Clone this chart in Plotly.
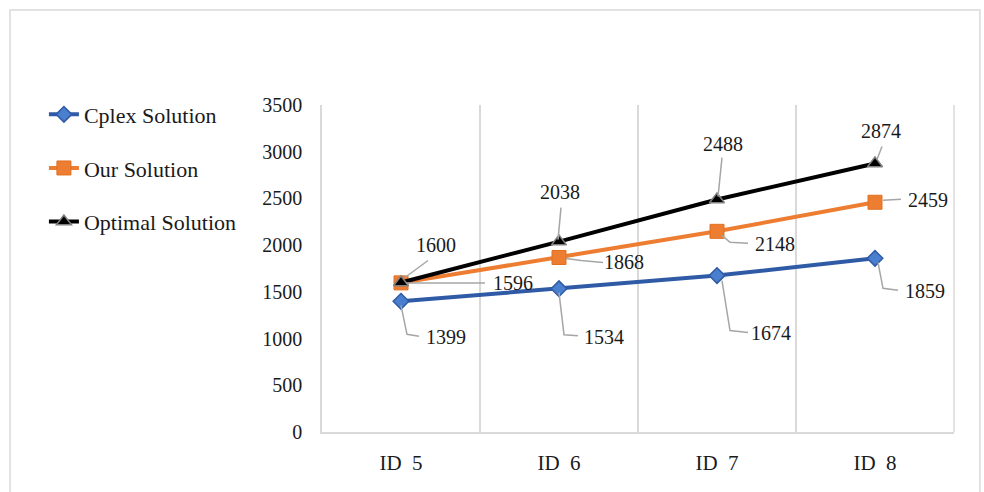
import plotly.graph_objects as go

# Instances compared along the x axis
categories = ["ID\u00a0 5", "ID\u00a0 6", "ID\u00a0 7", "ID\u00a0 8"]

# Objective values per method
cplex_values = [1399, 1534, 1674, 1859]
our_values = [1596, 1868, 2148, 2459]
optimal_values = [1600, 2038, 2488, 2874]

y_ticks = [0, 500, 1000, 1500, 2000, 2500, 3000, 3500]

FONT = "Liberation Serif, Times New Roman, serif"
TEXT = "#1a1a1a"
LEADER = "#a6a6a6"
GRID = "#d9d9d9"

# Label placement for each point: text offset (dx, dy) in screen pixels
# (dy downward) and leader-line vertices relative to the point.
cplex_labels = [
    ((45, 36), [(0, 4), (6, 33), (18, 35)]),
    ((45, 48), [(0, 4), (5, 46), (19, 47)]),
    ((54, 57), [(5, 5), (13, 55), (31, 57)]),
    ((50, 33), [(3, 4), (8, 30), (23, 32)]),
]
our_labels = [
    ((112, 0), [(5, 0), (84, 0)]),
    ((65, 5), [(7, 1), (22, 3), (44, 5)]),
    ((58, 13), [(5, 4), (13, 11), (31, 12)]),
    ((53, -2), [(8, -2), (26, -3)]),
]
optimal_labels = [
    ((35, -38), [(4, -5), (27, -22)]),
    ((1, -50), [(-1, -2), (2, -34)]),
    ((6, -56), [(1, -3), (5, -42)]),
    ((6, -32), [(2, -4), (7, -17)]),
]

fig = go.Figure()

fig.add_trace(go.Scatter(
    x=categories, y=cplex_values, name="Cplex Solution",
    mode="lines+markers", legendgroup="a",
    line=dict(color="#2F5AA6", width=4),
    marker=dict(symbol="diamond", size=12, color="#4A7FCF",
                line=dict(color="#2F5AA6", width=1.5)),
))
fig.add_trace(go.Scatter(
    x=categories, y=our_values, name="Our Solution",
    mode="lines+markers", legendgroup="b",
    line=dict(color="#ED7D31", width=4),
    marker=dict(symbol="square", size=14, color="#ED7D31",
                line=dict(color="#E07020", width=1)),
))
fig.add_trace(go.Scatter(
    x=categories, y=optimal_values, name="Optimal Solution",
    mode="lines+markers", legendgroup="c",
    line=dict(color="#000000", width=4),
    marker=dict(symbol="triangle-up", size=13, color="#000000",
                line=dict(color="#808080", width=1.5)),
))

shapes = []
annotations = []
for values, placements in ((cplex_values, cplex_labels),
                           (our_values, our_labels),
                           (optimal_values, optimal_labels)):
    for cat, val, ((dx, dy), pts) in zip(categories, values, placements):
        path = "M " + " L ".join(f"{px},{-py}" for px, py in pts)
        shapes.append(dict(
            type="path", xref="x", yref="y",
            xsizemode="pixel", ysizemode="pixel",
            xanchor=cat, yanchor=val, path=path,
            line=dict(color=LEADER, width=1.5), layer="above",
        ))
        annotations.append(dict(
            x=cat, y=val, xref="x", yref="y", text=str(val),
            showarrow=False, xshift=dx, yshift=-dy,
            font=dict(family=FONT, size=20, color=TEXT),
        ))

# Outer frame around the whole chart
shapes.append(dict(
    type="rect", xref="paper", yref="paper",
    x0=-0.4937, x1=1.041, y0=-0.2, y1=1.2905,
    line=dict(color=GRID, width=1.5), layer="below",
))
# Right edge of the plotting area
shapes.append(dict(
    type="line", xref="paper", yref="paper",
    x0=1, x1=1, y0=0, y1=1,
    line=dict(color=GRID, width=1.5), layer="below",
))

fig.update_layout(
    width=984, height=492,
    margin=dict(l=322, r=30, t=105, b=60),
    paper_bgcolor="white", plot_bgcolor="white",
    font=dict(family=FONT, size=20, color=TEXT),
    showlegend=True,
    legend=dict(
        x=-0.44, y=1.035, xanchor="left", yanchor="top",
        traceorder="grouped", tracegroupgap=22,
        font=dict(family=FONT, size=22, color=TEXT),
        bgcolor="rgba(0,0,0,0)",
    ),
    xaxis=dict(
        type="category", range=[-0.5, 3.5],
        showgrid=True, gridcolor=GRID, gridwidth=1.5,
        tickson="boundaries", ticks="",
        showline=True, linecolor=GRID, linewidth=1.5,
        zeroline=False, ticklabelstandoff=11,
        tickfont=dict(family=FONT, size=21, color=TEXT),
    ),
    yaxis=dict(
        range=[0, 3500], tickvals=y_ticks,
        showgrid=False, zeroline=False,
        showline=True, linecolor=GRID, linewidth=1.5,
        ticks="", ticklabelstandoff=14,
        tickfont=dict(family=FONT, size=20, color=TEXT),
    ),
    shapes=shapes, annotations=annotations,
)

fig.write_html("out.html")
